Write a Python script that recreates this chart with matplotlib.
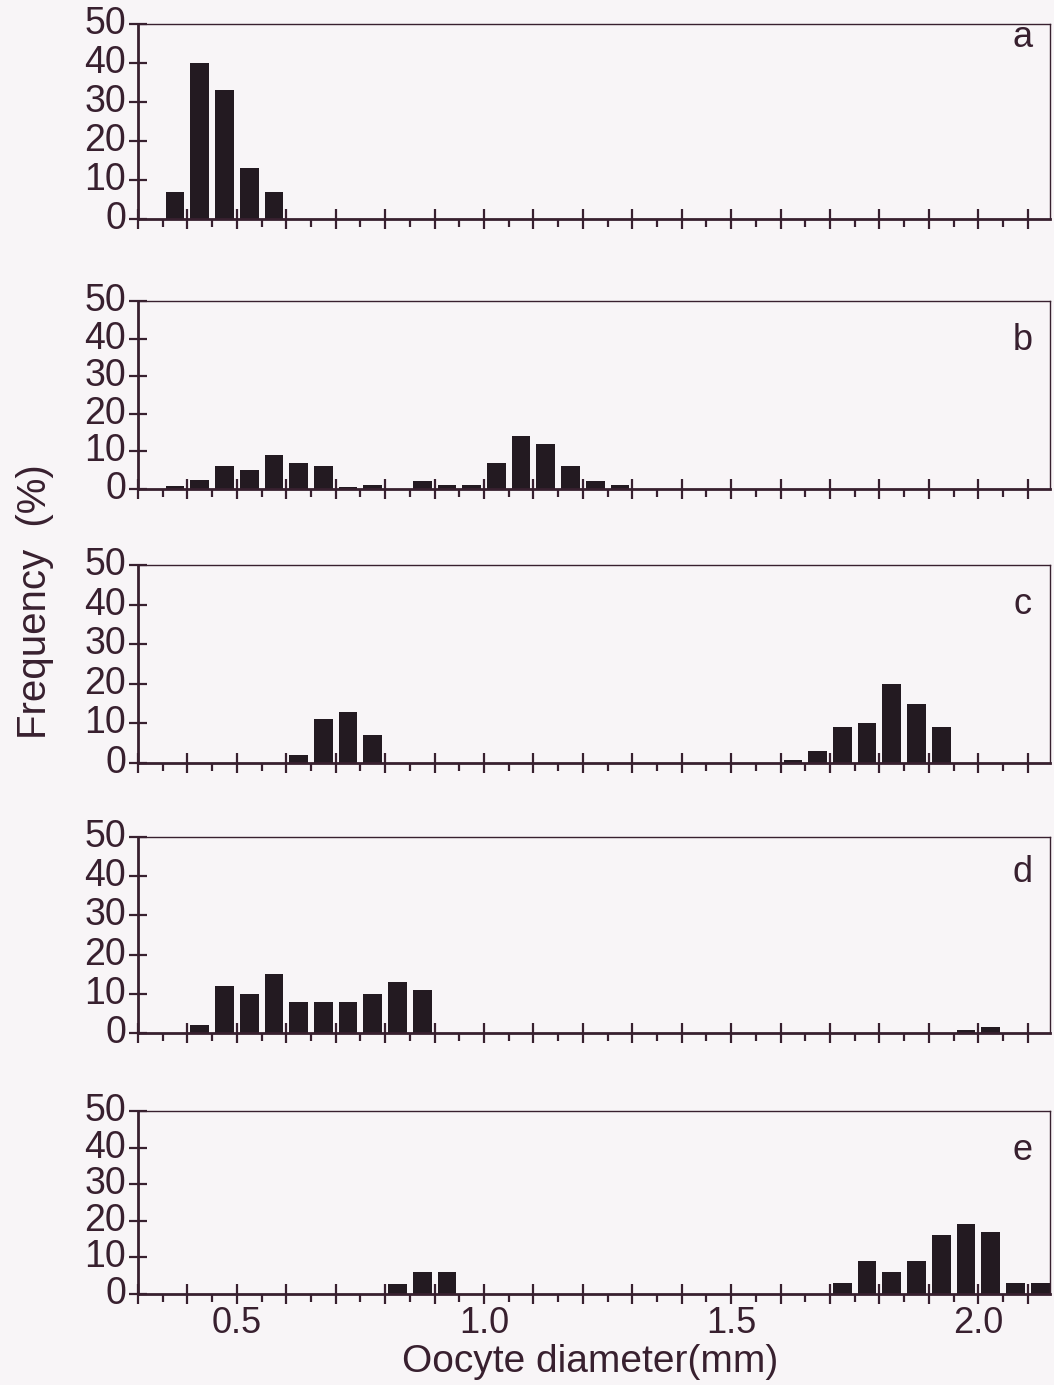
import numpy as np
import matplotlib
matplotlib.use("Agg")
import matplotlib.pyplot as plt
from matplotlib.ticker import FixedLocator, FuncFormatter

plt.rcParams['font.family'] = ['Liberation Sans', 'DejaVu Sans']

# ---- data (bin start in mm, frequency in %) ----
bin_width = 0.05
panel_names = ['a', 'b', 'c', 'd', 'e']

a_bins = [0.35, 0.40, 0.45, 0.50, 0.55]
a_freq = [7, 40, 33, 13, 7]

b_bins = [0.35, 0.40, 0.45, 0.50, 0.55, 0.60, 0.65, 0.70, 0.75, 0.85,
          0.90, 0.95, 1.00, 1.05, 1.10, 1.15, 1.20, 1.25]
b_freq = [0.7, 2.5, 6, 5, 9, 7, 6, 0.5, 1, 2, 1, 1, 7, 14, 12, 6, 2, 1]

c_bins = [0.60, 0.65, 0.70, 0.75, 1.60, 1.65, 1.70, 1.75, 1.80, 1.85, 1.90]
c_freq = [2, 11, 13, 7, 0.7, 3, 9, 10, 20, 15, 9]

d_bins = [0.40, 0.45, 0.50, 0.55, 0.60, 0.65, 0.70, 0.75, 0.80, 0.85, 1.95, 2.00]
d_freq = [2, 12, 10, 15, 8, 8, 8, 10, 13, 11, 0.8, 1.6]

e_bins = [0.80, 0.85, 0.90, 1.70, 1.75, 1.80, 1.85, 1.90, 1.95, 2.00, 2.05, 2.10]
e_freq = [2.7, 6, 6, 3, 9, 6, 9, 16, 19, 17, 3, 3]

y_ticks = [0, 10, 20, 30, 40, 50]
x_labels = [0.5, 1.0, 1.5, 2.0]
x_title = 'Oocyte diameter(mm)'
y_title = 'Frequency  (%)'

panels = [(a_bins, a_freq), (b_bins, b_freq), (c_bins, c_freq),
          (d_bins, d_freq), (e_bins, e_freq)]

# ---- layout (pixels of the 1054x1385 canvas) ----
W, H = 1054, 1385
left_px, right_px = 138, 1050
tops = [24, 301, 565, 837, 1111]
bottoms = [219, 489, 763, 1033, 1294]
letter_y = [0.882, 0.739, 0.753, 0.770, 0.732]

bg = '#f8f5f7'
ink = '#38202f'
barc = '#231a21'

fig = plt.figure(figsize=(W / 100, H / 100), dpi=100, facecolor=bg)

major = np.round(np.arange(0.3, 2.151, 0.1), 2)
minor = np.round(np.arange(0.35, 2.151, 0.1), 2)

def fmt(v, pos):
    for lab in x_labels:
        if abs(v - lab) < 1e-6:
            return f'{lab:.1f}'
    return ''

for i, ((bins, freq), name) in enumerate(zip(panels, panel_names)):
    l = left_px / W
    w = (right_px - left_px) / W
    b = 1 - bottoms[i] / H
    h = (bottoms[i] - tops[i]) / H
    ax = fig.add_axes([l, b, w, h])
    ax.set_facecolor(bg)
    centers = np.array(bins) + bin_width / 2
    ax.bar(centers, freq, width=0.038, color=barc, edgecolor='none', zorder=2)
    ax.set_xlim(0.30, 2.145)
    ax.set_ylim(0, 50)
    ax.set_yticks(y_ticks)
    ax.xaxis.set_major_locator(FixedLocator(major))
    ax.xaxis.set_minor_locator(FixedLocator(minor))
    ax.xaxis.set_major_formatter(FuncFormatter(fmt))
    for side in ['left', 'bottom']:
        ax.spines[side].set_linewidth(2.0)
        ax.spines[side].set_color(ink)
    for side in ['top', 'right']:
        ax.spines[side].set_linewidth(1.0)
        ax.spines[side].set_color(ink)
    ax.tick_params(axis='y', direction='inout', length=13, width=1.6,
                   pad=2, labelsize=27, colors=ink)
    ax.tick_params(axis='x', which='major', direction='inout', length=15,
                   width=1.6, pad=1, labelsize=26, colors=ink)
    ax.tick_params(axis='x', which='minor', direction='out', length=6,
                   width=1.6, colors=ink)
    for t in ax.get_yticklabels():
        t.set_verticalalignment('center')
    if i < 4:
        ax.tick_params(axis='x', labelbottom=False)
    ax.text(0.97, letter_y[i], name, transform=ax.transAxes, ha='center',
            va='baseline', fontsize=26, color=ink)

fig.text(590 / W, 1 - 1362 / H, x_title, ha='center', va='center',
         fontsize=28, color=ink)
fig.text(35 / W, 1 - 602 / H, y_title, ha='center', va='center',
         rotation=90, fontsize=29, color=ink)

fig.savefig('out.png', dpi=100, facecolor=bg)
